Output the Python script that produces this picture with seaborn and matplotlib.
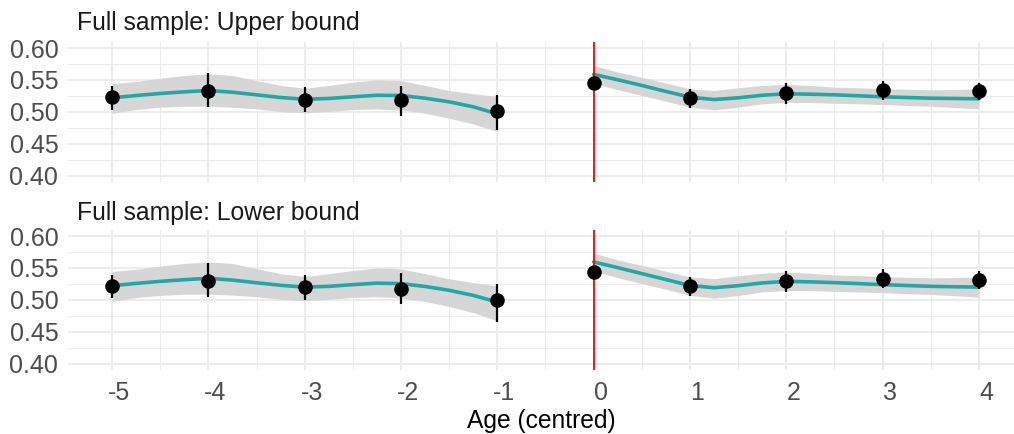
import numpy as np
import pandas as pd
import seaborn as sns
import matplotlib.pyplot as plt
import matplotlib.transforms as mtransforms

# observed points (age centred) with 95% bars
ages = [-5, -4, -3, -2, -1, 0, 1, 2, 3, 4]
upper_est = [0.523, 0.532, 0.519, 0.519, 0.501, 0.545, 0.5215, 0.530, 0.5335, 0.532]
upper_lo = [0.503, 0.507, 0.499, 0.494, 0.471, 0.539, 0.506, 0.513, 0.519, 0.518]
upper_hi = [0.541, 0.561, 0.539, 0.540, 0.527, 0.551, 0.536, 0.545, 0.549, 0.545]
lower_est = [0.522, 0.530, 0.520, 0.517, 0.499, 0.544, 0.521, 0.529, 0.532, 0.531]
lower_lo = [0.503, 0.505, 0.500, 0.494, 0.466, 0.538, 0.506, 0.513, 0.519, 0.517]
lower_hi = [0.539, 0.557, 0.539, 0.542, 0.525, 0.550, 0.536, 0.546, 0.548, 0.545]

# smoother, before and after the cut at 0
smooth_x_pre = [-5, -4.75, -4.5, -4.25, -4, -3.75, -3.5, -3.25, -3, -2.75, -2.5,
                -2.25, -2, -1.75, -1.5, -1.25, -1]
smooth_x_post = [0, 0.25, 0.5, 0.75, 1, 1.25, 1.5, 1.75, 2, 2.25, 2.5, 2.75, 3,
                 3.25, 3.5, 3.75, 4]

up_fit_pre = [0.522, 0.5256, 0.5288, 0.5314, 0.5335, 0.5308, 0.5267, 0.5225, 0.5198,
              0.521, 0.5236, 0.526, 0.5256, 0.5214, 0.5157, 0.5079, 0.4968]
up_top_pre = [0.544, 0.5476, 0.5528, 0.557, 0.5597, 0.557, 0.549, 0.5414, 0.537,
              0.5414, 0.5465, 0.5503, 0.549, 0.5414, 0.5335, 0.5283, 0.5245]
up_bot_pre = [0.4978, 0.5036, 0.5073, 0.5088, 0.5088, 0.5073, 0.5047, 0.5005, 0.4984,
              0.5005, 0.5036, 0.5047, 0.503, 0.4978, 0.490, 0.4811, 0.469]
up_fit_post = [0.5587, 0.5503, 0.5414, 0.532, 0.523, 0.5193, 0.522, 0.526, 0.5283,
               0.5277, 0.5267, 0.5252, 0.5236, 0.5225, 0.5214, 0.521, 0.5204]
up_top_post = [0.5728, 0.5623, 0.5544, 0.545, 0.5362, 0.5335, 0.5377, 0.5414, 0.543,
               0.5414, 0.5387, 0.5377, 0.5362, 0.5354, 0.5346, 0.5350, 0.5362]
up_bot_post = [0.545, 0.5346, 0.5256, 0.5167, 0.5073, 0.503, 0.5073, 0.5126, 0.515,
               0.5146, 0.5135, 0.5126, 0.5115, 0.5100, 0.5088, 0.5068, 0.5047]

lo_fit_pre = [0.5222, 0.5258, 0.529, 0.5316, 0.5338, 0.531, 0.5268, 0.5228, 0.5200,
              0.5212, 0.5238, 0.5262, 0.5254, 0.521, 0.515, 0.507, 0.4965]
lo_top_pre = [0.5445, 0.548, 0.553, 0.557, 0.5595, 0.557, 0.549, 0.541, 0.5365,
              0.541, 0.546, 0.550, 0.5485, 0.541, 0.533, 0.527, 0.522]
lo_bot_pre = [0.4975, 0.5035, 0.507, 0.5088, 0.509, 0.5075, 0.5048, 0.5008, 0.4987,
              0.5008, 0.5038, 0.5048, 0.5028, 0.4975, 0.4895, 0.480, 0.467]
lo_fit_post = [0.5594, 0.5505, 0.5412, 0.5318, 0.5225, 0.519, 0.5222, 0.5265, 0.529,
               0.5282, 0.527, 0.5255, 0.5238, 0.5225, 0.5212, 0.5205, 0.520]
lo_top_post = [0.5732, 0.5625, 0.5543, 0.5448, 0.536, 0.5332, 0.5378, 0.5418, 0.5435,
               0.5418, 0.539, 0.538, 0.5364, 0.5355, 0.5345, 0.5348, 0.536]
lo_bot_post = [0.5455, 0.5348, 0.5255, 0.5165, 0.507, 0.5026, 0.5068, 0.5125, 0.5148,
               0.5145, 0.5133, 0.5124, 0.5112, 0.5098, 0.5085, 0.5065, 0.5042]

titles = ["Full sample: Upper bound", "Full sample: Lower bound"]
y_ticks = [0.40, 0.45, 0.50, 0.55, 0.60]
x_ticks = [-5, -4, -3, -2, -1, 0, 1, 2, 3, 4]

sns.set_theme(style="whitegrid")
plt.rcParams['font.family'] = ['Liberation Sans', 'DejaVu Sans']

TEAL = "#21A7A4"
RIBBON = "#D6D6D6"
GRID = "#EBEBEB"
TXT = "#4D4D4D"

fig = plt.figure(figsize=(10.14, 4.34), dpi=100)
ax_top = fig.add_axes([68 / 1014, (434 - 182) / 434, (1014 - 68) / 1014, 140.3 / 434])
ax_bot = fig.add_axes([68 / 1014, (434 - 370) / 434, (1014 - 68) / 1014, 140.3 / 434])

panels = [
    (ax_top, upper_est, upper_lo, upper_hi,
     (up_fit_pre, up_top_pre, up_bot_pre), (up_fit_post, up_top_post, up_bot_post)),
    (ax_bot, lower_est, lower_lo, lower_hi,
     (lo_fit_pre, lo_top_pre, lo_bot_pre), (lo_fit_post, lo_top_post, lo_bot_post)),
]
title_y = [23, 213]

for i, (ax, est, lo, hi, pre, post) in enumerate(panels):
    ax.set_facecolor("white")
    for xs, (fit, top, bot) in [(smooth_x_pre, pre), (smooth_x_post, post)]:
        ax.fill_between(xs, bot, top, color=RIBBON, lw=0, zorder=2)
        sns.lineplot(x=xs, y=fit, ax=ax, color=TEAL, lw=2.6, zorder=3)
    ax.axvline(0, color="red", lw=1.3, zorder=4)
    ax.vlines(ages, lo, hi, color="black", lw=1.6, zorder=5)
    df = pd.DataFrame({"age": ages, "est": est})
    sns.scatterplot(data=df, x="age", y="est", ax=ax, color="black", s=110,
                    edgecolor="black", linewidth=0, zorder=6)

    ax.set_xlim(-5.457, 4.364)
    ax.set_ylim(0.39, 0.61)
    ax.set_xticks(x_ticks)
    ax.set_xticks(np.arange(-4.5, 4.0, 1.0), minor=True)
    ax.set_yticks(y_ticks)
    ax.set_yticks([0.425, 0.475, 0.525, 0.575], minor=True)
    ax.set_yticklabels([f"{v:.2f}" for v in y_ticks])
    ax.grid(which="major", color=GRID, lw=1.3)
    ax.grid(which="minor", color=GRID, lw=0.7)
    ax.set_axisbelow(True)
    for s in ax.spines.values():
        s.set_visible(False)
    ax.tick_params(axis="both", which="both", length=0, labelsize=18, labelcolor=TXT)
    ax.tick_params(axis="y", pad=7)
    ax.tick_params(axis="x", pad=8)
    ax.set_xlabel("")
    ax.set_ylabel("")
    if i == 0:
        ax.set_xticklabels([])
    else:
        ax.set_xticklabels([str(v) for v in x_ticks])
        shift = mtransforms.ScaledTranslation(7 / 100, 0, fig.dpi_scale_trans)
        for lab in ax.get_xticklabels():
            lab.set_transform(lab.get_transform() + shift)
    fig.text(77 / 1014, 1 - title_y[i] / 434, titles[i], fontsize=17.8,
             color="#1A1A1A", va="center", ha="left")

fig.text(541 / 1014, 1 - 421 / 434, "Age (centred)", fontsize=17.7, color="black",
         ha="center", va="center")

fig.savefig("out.png", dpi=100)
